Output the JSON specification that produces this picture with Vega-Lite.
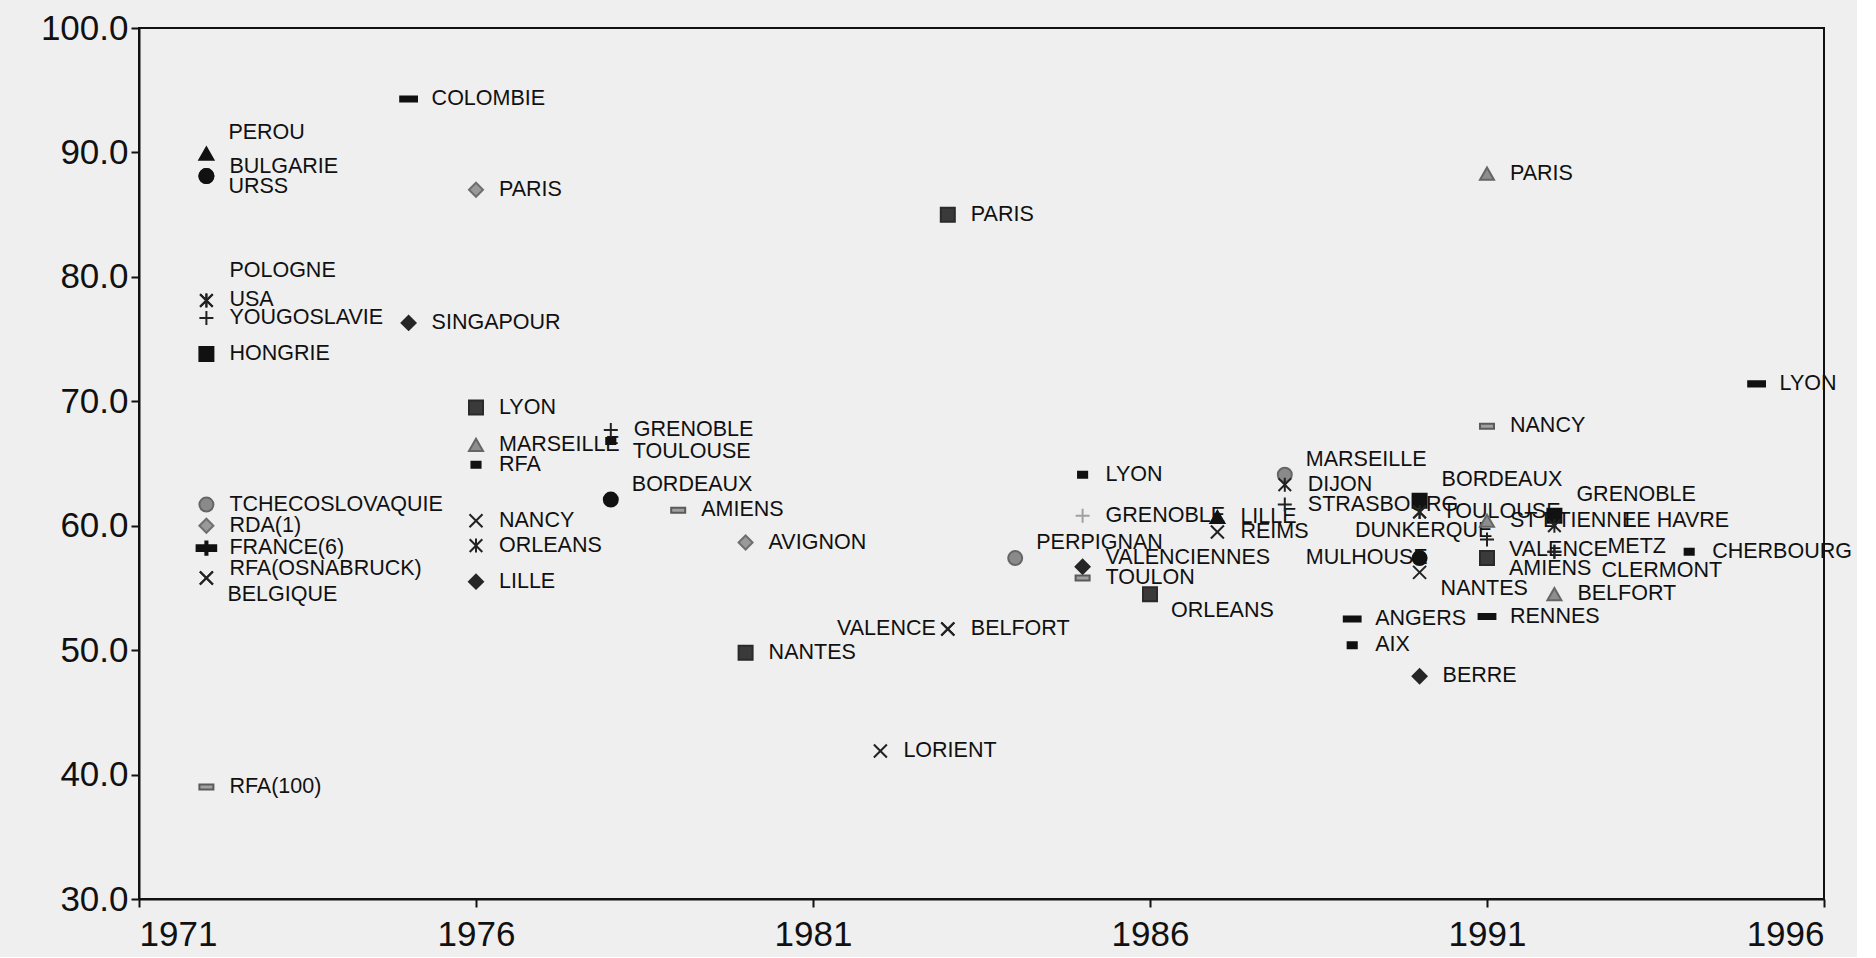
{
  "$schema": "https://vega.github.io/schema/vega-lite/v6.json",
  "width": 1685,
  "height": 871,
  "padding": {"left": 40, "top": 11, "right": 5, "bottom": 5},
  "background": "#efefef",
  "config": {
    "view": {"stroke": "#111111", "strokeWidth": 2},
    "axis": {"grid": false, "domainColor": "#111111", "domainWidth": 2, "tickColor": "#111111", "tickWidth": 2, "tickSize": 8, "labelColor": "#111111", "labelFont": "Liberation Sans", "labelFontSize": 35, "title": null},
    "text": {"font": "Liberation Sans", "fontSize": 21.5, "fill": "#111111", "baseline": "middle"}
  },
  "data": {"values": [
    {"nom": "PEROU", "annee": 1972, "valeur": 89.9, "serie": "tri_noir"},
    {"nom": "BULGARIE", "annee": 1972, "valeur": 88.1, "serie": "rond_noir"},
    {"nom": "URSS", "annee": 1972, "valeur": 88.1, "serie": "rond_noir"},
    {"nom": "POLOGNE", "annee": 1972, "valeur": 78.1, "serie": "etoile"},
    {"nom": "USA", "annee": 1972, "valeur": 78.1, "serie": "etoile"},
    {"nom": "YOUGOSLAVIE", "annee": 1972, "valeur": 76.7, "serie": "plus"},
    {"nom": "HONGRIE", "annee": 1972, "valeur": 73.8, "serie": "carre_noir"},
    {"nom": "TCHECOSLOVAQUIE", "annee": 1972, "valeur": 61.7, "serie": "rond_gris"},
    {"nom": "RDA(1)", "annee": 1972, "valeur": 60.0, "serie": "losange_gris"},
    {"nom": "FRANCE(6)", "annee": 1972, "valeur": 58.2, "serie": "plus_gras"},
    {"nom": "RFA(OSNABRUCK)", "annee": 1972, "valeur": 55.8, "serie": "croix_x"},
    {"nom": "BELGIQUE", "annee": 1972, "valeur": 55.8, "serie": "croix_x"},
    {"nom": "RFA(100)", "annee": 1972, "valeur": 39.0, "serie": "tiret_gris"},
    {"nom": "COLOMBIE", "annee": 1975, "valeur": 94.3, "serie": "tiret_noir"},
    {"nom": "SINGAPOUR", "annee": 1975, "valeur": 76.3, "serie": "losange_noir"},
    {"nom": "PARIS", "annee": 1976, "valeur": 87.0, "serie": "losange_gris"},
    {"nom": "LYON", "annee": 1976, "valeur": 69.5, "serie": "carre_fonce"},
    {"nom": "MARSEILLE", "annee": 1976, "valeur": 66.5, "serie": "tri_gris"},
    {"nom": "RFA", "annee": 1976, "valeur": 64.9, "serie": "pave_noir"},
    {"nom": "NANCY", "annee": 1976, "valeur": 60.4, "serie": "croix_x"},
    {"nom": "ORLEANS", "annee": 1976, "valeur": 58.4, "serie": "etoile"},
    {"nom": "LILLE", "annee": 1976, "valeur": 55.5, "serie": "losange_noir"},
    {"nom": "GRENOBLE", "annee": 1978, "valeur": 67.7, "serie": "plus"},
    {"nom": "TOULOUSE", "annee": 1978, "valeur": 66.8, "serie": "pave_noir"},
    {"nom": "BORDEAUX", "annee": 1978, "valeur": 62.1, "serie": "rond_noir"},
    {"nom": "AMIENS", "annee": 1979, "valeur": 61.25, "serie": "tiret_gris"},
    {"nom": "AVIGNON", "annee": 1980, "valeur": 58.65, "serie": "losange_gris"},
    {"nom": "NANTES", "annee": 1980, "valeur": 49.8, "serie": "carre_fonce"},
    {"nom": "LORIENT", "annee": 1982, "valeur": 41.9, "serie": "croix_x"},
    {"nom": "PARIS", "annee": 1983, "valeur": 85.0, "serie": "carre_fonce"},
    {"nom": "VALENCE", "annee": 1983, "valeur": 51.7, "serie": "croix_x"},
    {"nom": "BELFORT", "annee": 1983, "valeur": 51.7, "serie": "croix_x"},
    {"nom": "PERPIGNAN", "annee": 1984, "valeur": 57.4, "serie": "rond_gris"},
    {"nom": "LYON", "annee": 1985, "valeur": 64.1, "serie": "pave_noir"},
    {"nom": "GRENOBLE", "annee": 1985, "valeur": 60.8, "serie": "plus_gris"},
    {"nom": "VALENCIENNES", "annee": 1985, "valeur": 56.7, "serie": "losange_noir"},
    {"nom": "TOULON", "annee": 1985, "valeur": 55.8, "serie": "tiret_gris"},
    {"nom": "ORLEANS", "annee": 1986, "valeur": 54.5, "serie": "carre_fonce"},
    {"nom": "LILLE", "annee": 1987, "valeur": 60.7, "serie": "tri_noir"},
    {"nom": "REIMS", "annee": 1987, "valeur": 59.5, "serie": "croix_x"},
    {"nom": "MARSEILLE", "annee": 1988, "valeur": 64.1, "serie": "rond_gris"},
    {"nom": "DIJON", "annee": 1988, "valeur": 63.3, "serie": "etoile"},
    {"nom": "STRASBOURG", "annee": 1988, "valeur": 61.7, "serie": "plus"},
    {"nom": "ANGERS", "annee": 1989, "valeur": 52.5, "serie": "tiret_noir"},
    {"nom": "AIX", "annee": 1989, "valeur": 50.4, "serie": "pave_noir"},
    {"nom": "BORDEAUX", "annee": 1990, "valeur": 62.0, "serie": "carre_noir"},
    {"nom": "TOULOUSE", "annee": 1990, "valeur": 61.1, "serie": "etoile"},
    {"nom": "DUNKERQUE", "annee": 1990, "valeur": 61.1, "serie": "etoile"},
    {"nom": "MULHOUSE", "annee": 1990, "valeur": 57.4, "serie": "rond_noir"},
    {"nom": "NANTES", "annee": 1990, "valeur": 56.25, "serie": "croix_x"},
    {"nom": "BERRE", "annee": 1990, "valeur": 47.9, "serie": "losange_noir"},
    {"nom": "PARIS", "annee": 1991, "valeur": 88.3, "serie": "tri_gris"},
    {"nom": "NANCY", "annee": 1991, "valeur": 68.0, "serie": "tiret_gris"},
    {"nom": "ST ETIENNE", "annee": 1991, "valeur": 60.4, "serie": "tri_gris"},
    {"nom": "VALENCE", "annee": 1991, "valeur": 58.9, "serie": "plus"},
    {"nom": "AMIENS", "annee": 1991, "valeur": 57.4, "serie": "carre_fonce"},
    {"nom": "RENNES", "annee": 1991, "valeur": 52.7, "serie": "tiret_noir"},
    {"nom": "GRENOBLE", "annee": 1992, "valeur": 60.8, "serie": "carre_noir"},
    {"nom": "LE HAVRE", "annee": 1992, "valeur": 60.0, "serie": "etoile"},
    {"nom": "METZ", "annee": 1992, "valeur": 57.9, "serie": "plus"},
    {"nom": "CLERMONT", "annee": 1992, "valeur": 57.9, "serie": "plus"},
    {"nom": "BELFORT", "annee": 1992, "valeur": 54.5, "serie": "tri_gris"},
    {"nom": "CHERBOURG", "annee": 1994, "valeur": 57.9, "serie": "pave_noir"},
    {"nom": "LYON", "annee": 1995, "valeur": 71.4, "serie": "tiret_noir"}
  ]},
  "encoding": {
    "x": {"field": "annee", "type": "quantitative", "scale": {"domain": [1971, 1996], "nice": false, "zero": false}, "axis": {"values": [1971, 1976, 1981, 1986, 1991, 1996], "format": "d", "labelPadding": 10}},
    "y": {"field": "valeur", "type": "quantitative", "scale": {"domain": [30, 100], "nice": false, "zero": false}, "axis": {"values": [30, 40, 50, 60, 70, 80, 90, 100], "format": ".1f", "labelPadding": 3}}
  },
  "layer": [
    {"transform": [{"filter": "indexof(['PEROU|1972','BORDEAUX|1990','GRENOBLE|1992','BORDEAUX|1978','PERPIGNAN|1984','MARSEILLE|1988','BULGARIE|1972','RFA(OSNABRUCK)|1972','VALENCIENNES|1985','POLOGNE|1972','URSS|1972','TOULOUSE|1978','VALENCE|1991','AMIENS|1991','BELGIQUE|1972','ORLEANS|1986','NANTES|1990','VALENCE|1983','MULHOUSE|1990','DUNKERQUE|1990','LE HAVRE|1992','METZ|1992','CLERMONT|1992'], datum.nom + '|' + datum.annee) < 0"}],
     "mark": {"type": "text", "align": "left", "dx": 23}, "encoding": {"text": {"field": "nom"}}},
    {"transform": [{"filter": "indexof(['PEROU|1972','BORDEAUX|1990','GRENOBLE|1992'], datum.nom + '|' + datum.annee) >= 0"}],
     "mark": {"type": "text", "align": "left", "dx": 22, "dy": -21}, "encoding": {"text": {"field": "nom"}}},
    {"transform": [{"filter": "indexof(['BORDEAUX|1978','PERPIGNAN|1984','MARSEILLE|1988'], datum.nom + '|' + datum.annee) >= 0"}],
     "mark": {"type": "text", "align": "left", "dx": 21, "dy": -15}, "encoding": {"text": {"field": "nom"}}},
    {"transform": [{"filter": "indexof(['BULGARIE|1972','RFA(OSNABRUCK)|1972','VALENCIENNES|1985'], datum.nom + '|' + datum.annee) >= 0"}],
     "mark": {"type": "text", "align": "left", "dx": 23, "dy": -9}, "encoding": {"text": {"field": "nom"}}},
    {"transform": [{"filter": "datum.nom == 'POLOGNE'"}],
     "mark": {"type": "text", "align": "left", "dx": 23, "dy": -29}, "encoding": {"text": {"field": "nom"}}},
    {"transform": [{"filter": "indexof(['URSS|1972','TOULOUSE|1978','VALENCE|1991','AMIENS|1991'], datum.nom + '|' + datum.annee) >= 0"}],
     "mark": {"type": "text", "align": "left", "dx": 22, "dy": 11}, "encoding": {"text": {"field": "nom"}}},
    {"transform": [{"filter": "indexof(['BELGIQUE|1972','ORLEANS|1986','NANTES|1990'], datum.nom + '|' + datum.annee) >= 0"}],
     "mark": {"type": "text", "align": "left", "dx": 21, "dy": 17}, "encoding": {"text": {"field": "nom"}}},
    {"transform": [{"filter": "datum.nom == 'VALENCE' && datum.annee == 1983"}],
     "mark": {"type": "text", "align": "right", "dx": -12}, "encoding": {"text": {"field": "nom"}}},
    {"transform": [{"filter": "datum.nom == 'MULHOUSE'"}],
     "mark": {"type": "text", "align": "right", "dx": 8}, "encoding": {"text": {"field": "nom"}}},
    {"transform": [{"filter": "datum.nom == 'DUNKERQUE'"}],
     "mark": {"type": "text", "align": "center", "dx": 4, "dy": 19}, "encoding": {"text": {"field": "nom"}}},
    {"transform": [{"filter": "datum.nom == 'LE HAVRE'"}],
     "mark": {"type": "text", "align": "left", "dx": 70, "dy": -5}, "encoding": {"text": {"field": "nom"}}},
    {"transform": [{"filter": "datum.nom == 'METZ'"}],
     "mark": {"type": "text", "align": "left", "dx": 53, "dy": -5}, "encoding": {"text": {"field": "nom"}}},
    {"transform": [{"filter": "datum.nom == 'CLERMONT'"}],
     "mark": {"type": "text", "align": "left", "dx": 47, "dy": 19}, "encoding": {"text": {"field": "nom"}}},
    {"mark": {"type": "point", "filled": true, "size": 196, "strokeWidth": 2, "opacity": 1},
     "encoding": {
       "shape": {"field": "serie", "type": "nominal", "legend": null, "scale": {
         "domain": ["tri_noir","tri_gris","rond_noir","rond_gris","carre_noir","carre_fonce","losange_gris","losange_noir","tiret_noir","pave_noir","tiret_gris","croix_x","etoile","plus","plus_gris","plus_gras"],
         "range": ["triangle-up","triangle-up","circle","circle","square","square","diamond","diamond","M-1.2,-0.36H1.2V0.36H-1.2Z","M-0.65,-0.43H0.65V0.43H-0.65Z","M-1,-0.36H1V0.36H-1Z","M-0.93,-0.93L0.93,0.93M-0.93,0.93L0.93,-0.93","M-0.9,-0.9L0.9,0.9M-0.9,0.9L0.9,-0.9M0,-1L0,1","M-1,0L1,0M0,-1L0,1","M-1,0L1,0M0,-1L0,1","M-1.4,-0.4H1.4V0.4H-1.4Z M-0.15,-0.95H0.15V0.95H-0.15Z"]}},
       "fill": {"field": "serie", "type": "nominal", "legend": null, "scale": {
         "domain": ["tri_noir","tri_gris","rond_noir","rond_gris","carre_noir","carre_fonce","losange_gris","losange_noir","tiret_noir","pave_noir","tiret_gris","croix_x","etoile","plus","plus_gris","plus_gras"],
         "range": ["#111111","#8e8e8e","#111111","#8a8a8a","#111111","#3a3a3a","#9a9a9a","#262626","#111111","#111111","#a0a0a0","#222222","#222222","#222222","#a0a0a0","#111111"]}},
       "stroke": {"field": "serie", "type": "nominal", "legend": null, "scale": {
         "domain": ["tri_noir","tri_gris","rond_noir","rond_gris","carre_noir","carre_fonce","losange_gris","losange_noir","tiret_noir","pave_noir","tiret_gris","croix_x","etoile","plus","plus_gris","plus_gras"],
         "range": ["#111111","#666666","#111111","#666666","#111111","#2a2a2a","#6f6f6f","#262626","#111111","#111111","#5a5a5a","#222222","#222222","#222222","#a0a0a0","#111111"]}}
     }}
  ]
}
